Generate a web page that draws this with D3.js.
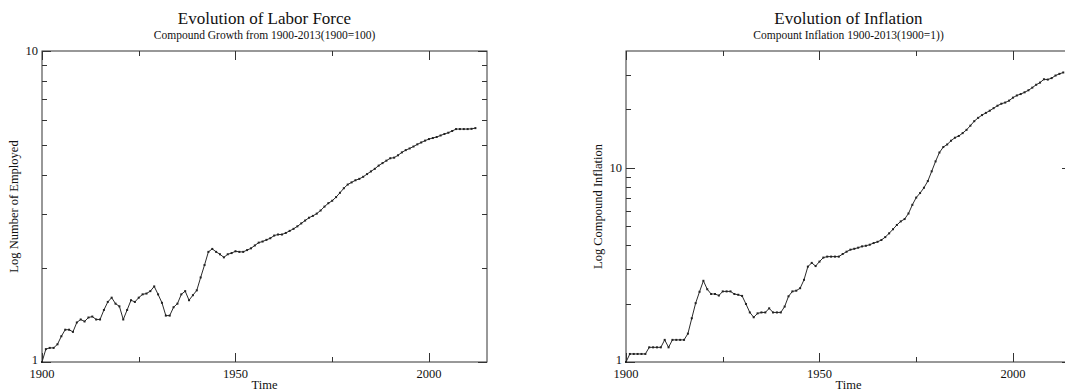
<!DOCTYPE html>
<html>
<head>
<meta charset="utf-8">
<script src="https://cdn.jsdelivr.net/npm/d3@7/dist/d3.min.js"></script>
<style>
  html, body { margin: 0; padding: 0; background: #fff; }
  svg { display: block; }
  text { font-family: "Liberation Serif", "Times New Roman", serif; fill: #111; }
</style>
</head>
<body>
<svg id="chart" width="1065" height="392"></svg>
<script>
// Labor force index, 1900 = 1 (annual, 1900-2012)
const laborStart = 1900;
const laborValues = [
  1.00, 1.10, 1.11, 1.11, 1.14, 1.21, 1.27, 1.27, 1.25, 1.34,
  1.37, 1.35, 1.39, 1.40, 1.37, 1.37, 1.47, 1.56, 1.61, 1.54,
  1.51, 1.37, 1.47, 1.58, 1.56, 1.61, 1.65, 1.66, 1.69, 1.75,
  1.65, 1.55, 1.41, 1.41, 1.50, 1.54, 1.65, 1.69, 1.58, 1.64,
  1.70, 1.87, 2.05, 2.26, 2.31, 2.26, 2.22, 2.17, 2.22, 2.24,
  2.27, 2.26, 2.26, 2.29, 2.32, 2.37, 2.42, 2.44, 2.47, 2.50,
  2.55, 2.57, 2.57, 2.60, 2.64, 2.68, 2.73, 2.79, 2.85, 2.91,
  2.95, 3.00, 3.07, 3.16, 3.24, 3.30, 3.39, 3.50, 3.62, 3.72,
  3.78, 3.84, 3.88, 3.94, 4.02, 4.10, 4.18, 4.28, 4.36, 4.44,
  4.52, 4.54, 4.62, 4.72, 4.80, 4.86, 4.93, 5.01, 5.08, 5.15,
  5.21, 5.25, 5.29, 5.35, 5.41, 5.46, 5.53, 5.61, 5.61, 5.61,
  5.61, 5.62, 5.65
];

// Compound inflation, 1900 = 1 (annual, 1900-2013)
const inflationStart = 1900;
const inflationValues = [
  1.00, 1.10, 1.10, 1.10, 1.10, 1.10, 1.19, 1.19, 1.19, 1.19,
  1.30, 1.19, 1.30, 1.30, 1.30, 1.30, 1.40, 1.68, 2.01, 2.30,
  2.62, 2.37, 2.24, 2.24, 2.20, 2.31, 2.31, 2.31, 2.24, 2.22,
  2.19, 1.99, 1.80, 1.70, 1.78, 1.80, 1.80, 1.89, 1.80, 1.80,
  1.80, 1.93, 2.18, 2.31, 2.33, 2.40, 2.65, 3.10, 3.24, 3.12,
  3.29, 3.45, 3.49, 3.49, 3.49, 3.49, 3.60, 3.70, 3.79, 3.83,
  3.88, 3.94, 3.97, 4.02, 4.10, 4.16, 4.25, 4.40, 4.60, 4.83,
  5.08, 5.30, 5.45, 5.82, 6.45, 7.03, 7.42, 7.90, 8.55, 9.60,
  10.8, 12.0, 12.8, 13.2, 13.8, 14.3, 14.6, 15.1, 15.7, 16.5,
  17.4, 18.1, 18.7, 19.2, 19.7, 20.3, 20.9, 21.4, 21.7, 22.2,
  23.0, 23.6, 24.0, 24.5, 25.1, 25.9, 26.8, 27.5, 28.6, 28.5,
  29.0, 29.9, 30.5, 31.0
];

const xTicks = [1900, 1925, 1950, 1975, 2000];
const xTickLabels = ["1900", "", "1950", "", "2000"];
const laborYTicks = [1, 2, 3, 4, 5, 6, 7, 8, 9, 10];
const laborYLabels = { 1: "1", 10: "10" };
const inflationYTicks = [1, 2, 3, 4, 5, 6, 7, 8, 9, 10, 20, 30];
const inflationYLabels = { 1: "1", 10: "10" };

const svg = d3.select("#chart");

function toSeries(start, values) {
  return values.map((v, i) => ({ year: start + i, value: v }));
}

function drawPanel(opt) {
  const g = svg.append("g");
  const x = d3.scaleLinear().domain([1900, 2015]).range([opt.left, opt.left + 445]);
  const y = d3.scaleLog().domain(opt.yDomain).range([362, 51]);
  const x0 = x.range()[0], x1 = x.range()[1];
  const y0 = y.range()[0], y1 = y.range()[1];
  const axisColor = "#333";
  const major = 9, minor = 5;

  // Frame
  g.append("rect")
    .attr("x", x0).attr("y", y1)
    .attr("width", x1 - x0).attr("height", y0 - y1)
    .attr("fill", "none").attr("stroke", axisColor).attr("stroke-width", 1);

  // X ticks on bottom and top, pointing inward
  xTicks.forEach((t, i) => {
    const len = xTickLabels[i] ? major : minor;
    const px = Math.round(x(t)) + 0.5;
    g.append("line").attr("x1", px).attr("x2", px).attr("y1", y0).attr("y2", y0 - len)
      .attr("stroke", axisColor);
    g.append("line").attr("x1", px).attr("x2", px).attr("y1", y1).attr("y2", y1 + len)
      .attr("stroke", axisColor);
    if (xTickLabels[i]) {
      g.append("text").attr("x", x(t)).attr("y", 377.5)
        .attr("text-anchor", "middle").attr("font-size", 12.5).text(xTickLabels[i]);
    }
  });

  // Y ticks on left and right, pointing inward
  opt.yTicks.forEach(t => {
    const isMajor = opt.yLabels[t] !== undefined;
    const len = isMajor ? major : minor;
    const py = Math.round(y(t)) + 0.5;
    g.append("line").attr("x1", x0).attr("x2", x0 + len).attr("y1", py).attr("y2", py)
      .attr("stroke", axisColor);
    g.append("line").attr("x1", x1).attr("x2", x1 - len).attr("y1", py).attr("y2", py)
      .attr("stroke", axisColor);
    if (isMajor) {
      // the bottom label sits a little higher so it clears the year labels
      const dy = t === opt.yDomain[0] ? 2 : 4;
      g.append("text").attr("x", x0 - 4).attr("y", y(t) + dy)
        .attr("text-anchor", "end").attr("font-size", 12.5).text(opt.yLabels[t]);
    }
  });

  // Series line with a small marker on each year
  const data = toSeries(opt.start, opt.values);
  const line = d3.line().x(d => x(d.year)).y(d => y(d.value));
  g.append("path").datum(data).attr("d", line)
    .attr("fill", "none").attr("stroke", "#2a2a2a").attr("stroke-width", 1);
  g.selectAll(".pt").data(data).enter().append("rect")
    .attr("x", d => x(d.year) - 1).attr("y", d => y(d.value) - 1)
    .attr("width", 2).attr("height", 2).attr("fill", "#222");

  // Titles
  const cx = (x0 + x1) / 2;
  g.append("text").attr("x", cx).attr("y", 23.5).attr("text-anchor", "middle")
    .attr("font-size", 17).text(opt.title);
  g.append("text").attr("x", cx).attr("y", 38.5).attr("text-anchor", "middle")
    .attr("font-size", 11.5).text(opt.subtitle);
  g.append("text").attr("x", cx).attr("y", 389).attr("text-anchor", "middle")
    .attr("font-size", 12.5).text("Time");
  g.append("text")
    .attr("transform", `translate(${opt.yLabelX},${(y0 + y1) / 2}) rotate(-90)`)
    .attr("text-anchor", "middle").attr("font-size", 12.5).text(opt.yTitle);
}

drawPanel({
  left: 42,
  yDomain: [1, 10],
  yTicks: laborYTicks,
  yLabels: laborYLabels,
  start: laborStart,
  values: laborValues,
  title: "Evolution of Labor Force",
  subtitle: "Compound Growth from 1900-2013(1900=100)",
  yTitle: "Log Number of Employed",
  yLabelX: 18
});

drawPanel({
  left: 626,
  yDomain: [1, 40],
  yTicks: inflationYTicks,
  yLabels: inflationYLabels,
  start: inflationStart,
  values: inflationValues,
  title: "Evolution of Inflation",
  subtitle: "Compount Inflation 1900-2013(1900=1))",
  yTitle: "Log Compound Inflation",
  yLabelX: 602
});
</script>
</body>
</html>
